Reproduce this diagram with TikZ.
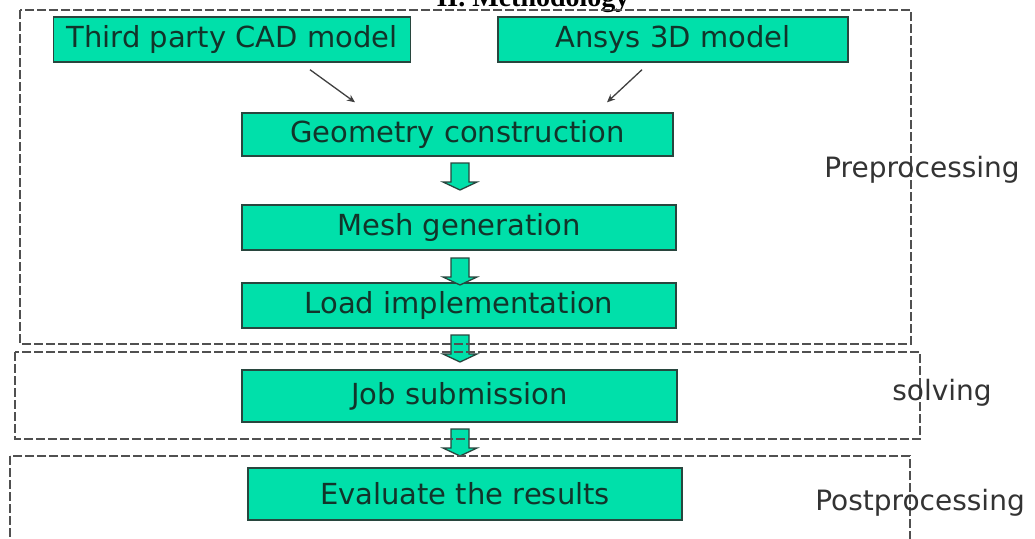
\documentclass[tikz,border=0pt]{standalone}
\usepackage{fontspec}
\setmainfont{DejaVu Sans}
\newfontfamily\titlefont{Liberation Serif}
\usetikzlibrary{arrows.meta,calc}
\definecolor{boxfill}{RGB}{0,224,170}
\definecolor{boxline}{RGB}{40,70,62}
\definecolor{boxtext}{RGB}{18,52,42}
\definecolor{dashcol}{RGB}{80,80,80}
\tikzset{
  stepbox/.style={draw=boxline, line width=1.4pt, fill=boxfill, text=boxtext,
    font=\fontsize{29}{32}\selectfont, inner sep=0pt, anchor=center},
  phasebox/.style={draw=dashcol, line width=1.4pt, dash pattern=on 9pt off 3pt},
  phaselabel/.style={text=black!80, font=\fontsize{28}{32}\selectfont, inner sep=0pt, anchor=center},
  thinarrow/.style={draw=black!75, line width=1.3pt, -{Stealth[length=8pt,width=7pt]}},
  pics/barrow/.style={code={
    \draw[draw=boxline, line width=1.3pt, fill=boxfill]
      (-9,0) -- (9,0) -- (9,19) -- (17,19) -- (0,27) -- (-17,19) -- (-9,19) -- cycle;
  }}
}
\begin{document}
\begin{tikzpicture}[x=1pt,y=-1pt]
\useasboundingbox (0,0) rectangle (1035,538);
\fill[white] (0,0) rectangle (1035,538);
% title (cut off at top, as in the reference)
\node[anchor=base, inner sep=0pt, font=\titlefont\bfseries\fontsize{28}{30}\selectfont] (title) at (533,6) {II. Methodology};
% step boxes
\node[stepbox, minimum width=357pt, minimum height=45pt] (cad) at (232,39.5) {Third party CAD model};
\node[stepbox, minimum width=350pt, minimum height=45pt] (ansys) at (673,39.5) {Ansys 3D model};
\node[stepbox, minimum width=431pt, minimum height=43pt] (geo) at (457.5,134.5) {Geometry construction};
\node[stepbox, minimum width=434pt, minimum height=45pt] (mesh) at (459,227.5) {Mesh generation};
\node[stepbox, minimum width=434pt, minimum height=45pt] (load) at (459,305.5) {Load implementation};
\node[stepbox, minimum width=435pt, minimum height=52pt] (job) at (459.5,396) {Job submission};
\node[stepbox, minimum width=434pt, minimum height=52pt] (eval) at (465,494) {Evaluate the results};
% thin arrows
\draw[thinarrow] ([shift={(78,7)}]cad.south) -- ([shift={(-102.5,-10)}]geo.north);
\draw[thinarrow] ([shift={(-31,7)}]ansys.south) -- ([shift={(149.5,-10)}]geo.north);
% block arrows
\pic at (460,163) {barrow};
\pic at (460,258) {barrow};
\pic at (460,335) {barrow};
\pic at (460,429) {barrow};
% phase boxes (drawn over the arrows)
\draw[phasebox] (20,10) rectangle (911,344);
\draw[phasebox] (15,352) rectangle (920,439);
\draw[phasebox] (10,456) rectangle (910,570);
% phase labels
\node[phaselabel] (lpre) at (922,170) {Preprocessing};
\node[phaselabel] (lsol) at (942,393) {solving};
\node[phaselabel] (lpost) at (920,503) {Postprocessing};
\end{tikzpicture}
\end{document}
